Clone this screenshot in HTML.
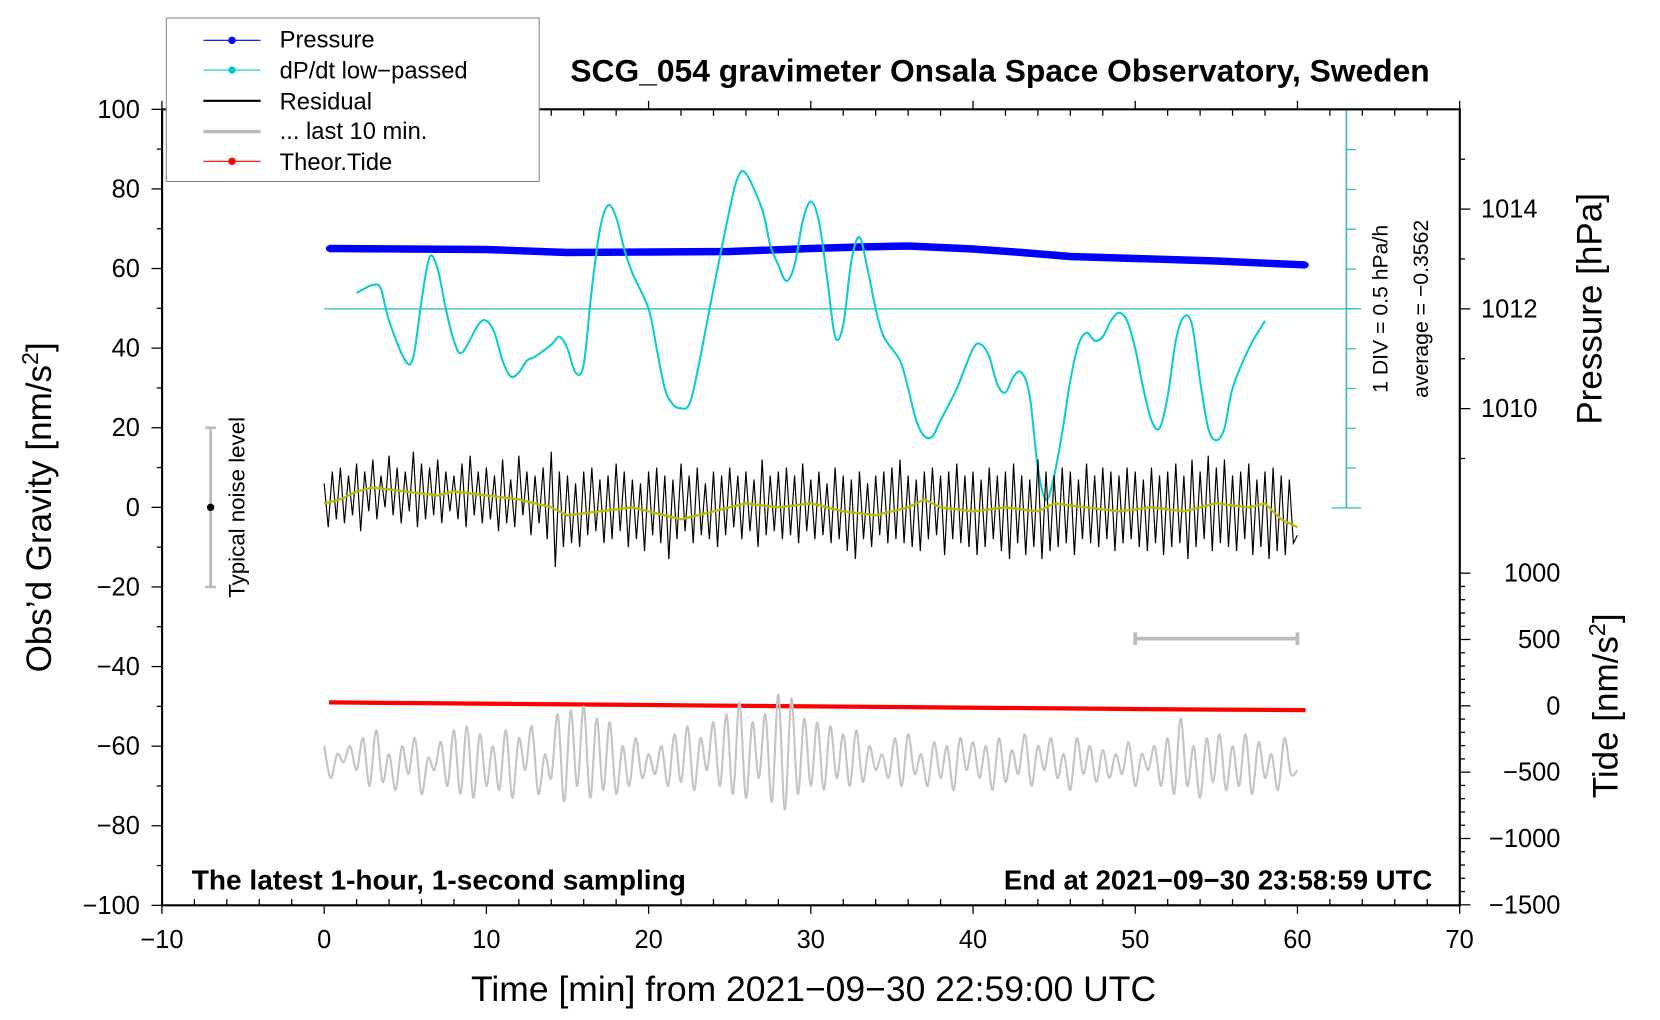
<!DOCTYPE html>
<html><head><meta charset="utf-8"><style>
html,body{margin:0;padding:0;background:#fff;}
svg{display:block;font-family:"Liberation Sans",sans-serif;}
</style></head><body>
<svg id="chart" width="1660" height="1020" viewBox="0 0 1567 961" preserveAspectRatio="none" xmlns="http://www.w3.org/2000/svg">
<rect x="0" y="0" width="1567" height="961" fill="#fff"/>
<g id="marks"></g>
<g id="axes"></g>
<text x="944" y="77" font-size="30" font-weight="bold" text-anchor="middle">SCG_054 gravimeter Onsala Space Observatory, Sweden</text>
<text x="768" y="943" font-size="33.5" text-anchor="middle">Time [min] from 2021−09−30 22:59:00 UTC</text>
<text transform="translate(48,478) rotate(-90)" font-size="33" text-anchor="middle">Obs’d Gravity [nm/s<tspan dy="-12" font-size="22">2</tspan><tspan dy="12">]</tspan></text>
<text transform="translate(1512,291) rotate(-90)" font-size="33" text-anchor="middle">Pressure [hPa]</text>
<text transform="translate(1527,665) rotate(-90)" font-size="33" text-anchor="middle">Tide [nm/s<tspan dy="-12" font-size="22">2</tspan><tspan dy="12">]</tspan></text>
<text x="181" y="838" font-size="26.5" font-weight="bold">The latest 1-hour, 1-second sampling</text>
<text x="1352" y="838" font-size="26" font-weight="bold" text-anchor="end">End at 2021−09−30 23:58:59 UTC</text>
<text transform="translate(1310,291) rotate(-90)" font-size="20" text-anchor="middle">1 DIV = 0.5 hPa/h</text>
<text transform="translate(1348,291) rotate(-90)" font-size="20" text-anchor="middle">average = −0.3562</text>
<text transform="translate(231,478) rotate(-90)" font-size="21" text-anchor="middle">Typical noise level</text>
<g>
<rect x="157" y="17" width="352" height="154" fill="#fff" stroke="#888" stroke-width="1"/>
<g><line x1="192" y1="38" x2="246" y2="38" stroke="#00f" stroke-width="1"/><circle cx="219" cy="38" r="3.5" fill="#00f"/><text x="264" y="45" font-size="22.4">Pressure</text></g>
<g><line x1="192" y1="66" x2="246" y2="66" stroke="#0cc" stroke-width="1"/><circle cx="219" cy="66" r="3.5" fill="#0cc"/><text x="264" y="74" font-size="22.4">dP/dt low−passed</text></g>
<g><line x1="192" y1="95" x2="246" y2="95" stroke="#000" stroke-width="2"/><text x="264" y="103" font-size="22.4">Residual</text></g>
<g><line x1="192" y1="124" x2="246" y2="124" stroke="#bbb" stroke-width="3"/><text x="264" y="131" font-size="22.4">... last 10 min.</text></g>
<g><line x1="192" y1="152" x2="246" y2="152" stroke="#f00" stroke-width="1"/><circle cx="219" cy="152" r="3.5" fill="#f00"/><text x="264" y="160" font-size="22.4">Theor.Tide</text></g>
</g>
</svg>
<script>
// ---- data ----
const pressureTimes = [0.3,5,10,15,20,25,30,33,36,40,43,46,50,55,60.5];
const pressureHPa = [1013.21,1013.20,1013.19,1013.13,1013.14,1013.15,1013.21,1013.24,1013.26,1013.20,1013.13,1013.05,1013.01,1012.96,1012.88];
const dpdtTimes = [2,3,3.5,4,5,5.5,6,6.5,7,7.5,8,8.5,9.5,10,10.5,11,11.5,12,12.5,13,14,14.5,15,15.5,16,16.5,17,17.5,18,18.5,19,20,20.5,21,21.5,22,22.5,23,24,25,25.5,26,27,27.5,28,28.5,29,29.5,30,30.5,31,31.5,32,32.5,33,33.5,34,34.5,35.5,36,36.5,37,37.5,38,39,40,40.5,41,41.5,42,42.5,43,43.5,44,44.5,45,45.5,46,46.5,47,47.5,48,48.5,49,49.5,50,50.5,51,51.5,52,52.5,53,53.5,54,54.5,55,55.5,56,57,58];
const dpdtDiv = [0.4,0.6,0.5,-0.3,-1.3,-1.2,0.2,1.3,1.0,0,-0.8,-1.1,-0.4,-0.3,-0.6,-1.3,-1.7,-1.6,-1.3,-1.2,-0.9,-0.7,-1.0,-1.6,-1.4,0.5,2.0,2.6,2.3,1.5,0.9,0,-1.0,-2.0,-2.4,-2.5,-2.4,-1.6,0.5,2.5,3.3,3.4,2.5,1.6,1.1,0.7,1.1,2.2,2.7,2.2,0.8,-0.7,-0.4,1.2,1.8,1.0,0,-0.7,-1.3,-2.0,-2.8,-3.2,-3.2,-2.8,-2.0,-1.0,-0.9,-1.2,-1.9,-2.1,-1.7,-1.6,-2.2,-4.0,-4.8,-4.2,-3.1,-1.8,-0.9,-0.6,-0.8,-0.7,-0.3,-0.1,-0.3,-1.0,-2.0,-2.8,-3.0,-2.2,-0.8,-0.2,-0.4,-1.8,-3.0,-3.3,-3.0,-2.0,-1.0,-0.3];
const residual = [6,-5,9,-3,10,-4,8,-2,11,-6,9,-1,12,-3,8,0,13,-2,10,-4,
9,-1,14,-5,11,-3,10,-2,12,-4,9,-1,8,-3,11,-5,13,-2,9,-4,
10,-3,8,-6,12,-4,7,-5,13,-2,9,-7,8,-4,10,-8,14,-15,9,-10,
8,-9,6,-10,9,-7,10,-6,7,-9,8,-8,11,-6,9,-10,7,-8,6,-11,
9,-7,10,-9,8,-13,7,-8,11,-6,8,-9,10,-7,6,-8,9,-10,8,-7,
10,-5,8,-8,9,-6,7,-10,12,-7,8,-6,9,-8,10,-7,8,-9,11,-6,
7,-8,9,-7,6,-9,10,-8,8,-11,7,-13,9,-8,6,-10,8,-7,9,-9,
10,-8,12,-9,8,-10,7,-11,9,-8,10,-7,8,-12,9,-8,11,-9,8,-10,
9,-12,7,-10,10,-8,8,-11,9,-13,11,-9,8,-12,7,-10,12,-13,9,-11,
8,-10,10,-9,9,-12,7,-8,11,-9,8,-10,10,-8,9,-11,8,-9,10,-8,
9,-10,7,-11,10,-9,8,-12,9,-10,11,-9,8,-13,12,-10,9,-8,13,-11,
10,-9,12,-10,8,-11,9,-8,11,-12,7,-10,9,-13,10,-11,8,-12,7,-9,-7];
const residualStep = 0.25;
const smoothTimes = [0,1,2,3,5,7,8,10,12,14,15,17,19,21,22,24,26,28,30,32,34,36,37,38,40,42,44,45,47,49,51,53,55,57,58,59,60];
const smoothVals = [1,2,4,5,4,3,4,3,2,0,-2,-1,0,-2,-3,-1,1,0,1,-1,-2,0,2,0,-1,0,-1,1,0,-1,0,-1,1,0,1,-3,-5];
const last10 = [-60,-68,-62,-64,-60,-66,-58,-70,-56,-69,-62,-71,-60,-67,-58,-72,-63,-66,-59,-70,
-56,-72,-55,-73,-57,-70,-60,-71,-56,-73,-58,-66,-55,-72,-62,-68,-52,-74,-51,-70,
-50,-73,-53,-71,-54,-72,-60,-70,-58,-68,-62,-67,-60,-70,-57,-69,-55,-71,-58,-66,
-54,-70,-52,-72,-49,-73,-54,-68,-52,-74,-47,-76,-48,-72,-53,-70,-54,-71,-55,-68,
-57,-70,-56,-69,-60,-66,-62,-68,-58,-70,-57,-67,-62,-70,-59,-68,-60,-71,-58,-66,
-59,-68,-60,-71,-58,-69,-61,-67,-57,-70,-60,-66,-58,-68,-62,-71,-58,-67,-60,-69,
-61,-68,-62,-67,-59,-70,-62,-66,-60,-70,-58,-72,-53,-70,-60,-73,-58,-69,-57,-71,
-60,-70,-57,-72,-59,-68,-62,-71,-58,-67,-66];
const last10Step = 0.4;
const tideTimes = [0.3,6,12,18,24,30,36,42,48,54,60.5];
const tideVals = [26,20,14,8,2,-4,-10,-16,-22,-28,-32];
const xTicks = [-10,0,10,20,30,40,50,60,70];
const yTicks = [100,80,60,40,20,0,-20,-40,-60,-80,-100];
const pressureTicks = [1010,1012,1014];
const tideTicks = [1000,500,0,-500,-1000,-1500];

// ---- scales ----
const X = t => 306 + t * 15.3125;
const Y = v => 478 - v * 3.75;
const YP = p => 291 - (p - 1012) * 47;
const YT = g => 665 - g * 0.125;
const YD = d => 291 - d * 37.5;
const NS = 'http://www.w3.org/2000/svg';
const marks = document.getElementById('marks');
const axes = document.getElementById('axes');
function mk(tag, attrs, parent) {
  const e = document.createElementNS(NS, tag);
  for (const k in attrs) e.setAttribute(k, attrs[k]);
  parent.appendChild(e);
  return e;
}
function fmt(n){ return String(n).replace('-', '−'); }
function smoothPath(pts) {
  let d = 'M' + pts[0][0] + ',' + pts[0][1];
  for (let i = 0; i < pts.length - 1; i++) {
    const p0 = pts[Math.max(0, i - 1)], p1 = pts[i], p2 = pts[i + 1], p3 = pts[Math.min(pts.length - 1, i + 2)];
    const c1x = p1[0] + (p2[0] - p0[0]) / 6, c1y = p1[1] + (p2[1] - p0[1]) / 6;
    const c2x = p2[0] - (p3[0] - p1[0]) / 6, c2y = p2[1] - (p3[1] - p1[1]) / 6;
    d += ` C${c1x},${c1y} ${c2x},${c2y} ${p2[0]},${p2[1]}`;
  }
  return d;
}

// dP/dt reference axis
let el = mk('line', {x1:1271,y1:103,x2:1271,y2:478,stroke:'#3bb',"stroke-width":1.5}, marks);


for (let k = -5; k <= 5; k++) {
  const yy = 291 - k * 37.5;
  const full = (k === 5 || k === -5);
  el = mk('line', {x1: full ? 1257 : 1271, y1: yy, x2: full ? 1285 : 1280, y2: yy, stroke:'#3bb', "stroke-width":1.2}, marks);
  
  
}
el = mk('line', {x1:X(0),y1:YD(0),x2:1285,y2:YD(0),stroke:'#2bb',"stroke-width":1.2}, marks);



// noise level bar
el = mk('path', {d:`M${X(-7)-5},${Y(20)}H${X(-7)+5}M${X(-7)},${Y(20)}V${Y(-20)}M${X(-7)-5},${Y(-20)}H${X(-7)+5}`, stroke:'#bbb', "stroke-width":2.5, fill:'none'}, marks);


el = mk('circle', {cx:X(-7), cy:Y(0), r:3.5, fill:'#000'}, marks);



// 10-min scale bar
el = mk('path', {d:`M${X(50)},${Y(-33)-6}V${Y(-33)+6}M${X(50)},${Y(-33)}H${X(60)}M${X(60)},${Y(-33)-6}V${Y(-33)+6}`, stroke:'#bbb', "stroke-width":3.5, fill:'none'}, marks);



// pressure
el = mk('polyline', {points: pressureTimes.map((t,i)=>X(t)+','+YP(pressureHPa[i])).join(' '), stroke:'#00f', "stroke-width":7, fill:'none', "stroke-linejoin":'round'}, marks);


pressureTimes.forEach((t,i)=>{
  const c = mk('circle', {cx:X(t), cy:YP(pressureHPa[i]), r:3, fill:'#00f'}, marks);
  
  
});

// dP/dt
el = mk('path', {d: smoothPath(dpdtTimes.map((t,i)=>[X(t), YD(dpdtDiv[i])])), stroke:'#1cc', "stroke-width":2, fill:'none'}, marks);



// residual
el = mk('polyline', {points: residual.map((v,i)=>X(i*residualStep)+','+Y(v)).join(' '), stroke:'#000', "stroke-width":1.1, fill:'none'}, marks);


el = mk('polyline', {points: smoothTimes.map((t,i)=>X(t)+','+Y(smoothVals[i])).join(' '), stroke:'#bb0', "stroke-width":2.2, fill:'none'}, marks);



// tide
el = mk('polyline', {points: tideTimes.map((t,i)=>X(t)+','+YT(tideVals[i])).join(' '), stroke:'#f00', "stroke-width":4, fill:'none'}, marks);



// last 10 min
el = mk('path', {d: smoothPath(last10.map((v,i)=>[X(i*last10Step), Y(v)])), stroke:'#c4c4c4', "stroke-width":2, fill:'none'}, marks);



// frame
el = mk('path', {d:'M153,103H1378V853H153Z', stroke:'#000', "stroke-width":2, fill:'none'}, axes);



// x ticks
for (let t = -10; t <= 70; t += 2) {
  const major = t % 10 === 0;
  mk('line', {x1:X(t),y1:853,x2:X(t),y2:853 + (major?8:-6),stroke:'#000',"stroke-width":1.2}, axes);
  mk('line', {x1:X(t),y1:103,x2:X(t),y2:103 + (major?-8:6),stroke:'#000',"stroke-width":1.2}, axes);
}
xTicks.forEach(t=>{
  const tx = mk('text', {x:X(t), y:893, "font-size":24, "text-anchor":'middle'}, axes);
  tx.textContent = fmt(t);
  
  
});
// left y ticks
for (let v = -100; v <= 100; v += 10) {
  const major = v % 20 === 0;
  mk('line', {x1:153,y1:Y(v),x2:major?143:148,y2:Y(v),stroke:'#000',"stroke-width":1.2}, axes);
}
yTicks.forEach(v=>{
  const tx = mk('text', {x:132, y:Y(v)+8, "font-size":24, "text-anchor":'end'}, axes);
  tx.textContent = fmt(v);
  
  
});
// pressure ticks
for (let p = 1008; p <= 1015; p += 1) {
  if (YP(p) < 103 || YP(p) > 478) continue;
  mk('line', {x1:1378,y1:YP(p),x2:p%2===0?1388:1383,y2:YP(p),stroke:'#000',"stroke-width":1.2}, axes);
}
pressureTicks.forEach(p=>{
  const tx = mk('text', {x:1398, y:YP(p)+8, "font-size":24}, axes);
  tx.textContent = p;
  
  
});
// tide ticks
for (let g = -1500; g <= 1000; g += 100) {
  mk('line', {x1:1378,y1:YT(g),x2:g%500===0?1388:1383,y2:YT(g),stroke:'#000',"stroke-width":1.2}, axes);
}
tideTicks.forEach(g=>{
  const tx = mk('text', {x:1473, y:YT(g)+8, "font-size":24, "text-anchor":'end'}, axes);
  tx.textContent = fmt(g);
  
  
});
</script>
</body></html>
